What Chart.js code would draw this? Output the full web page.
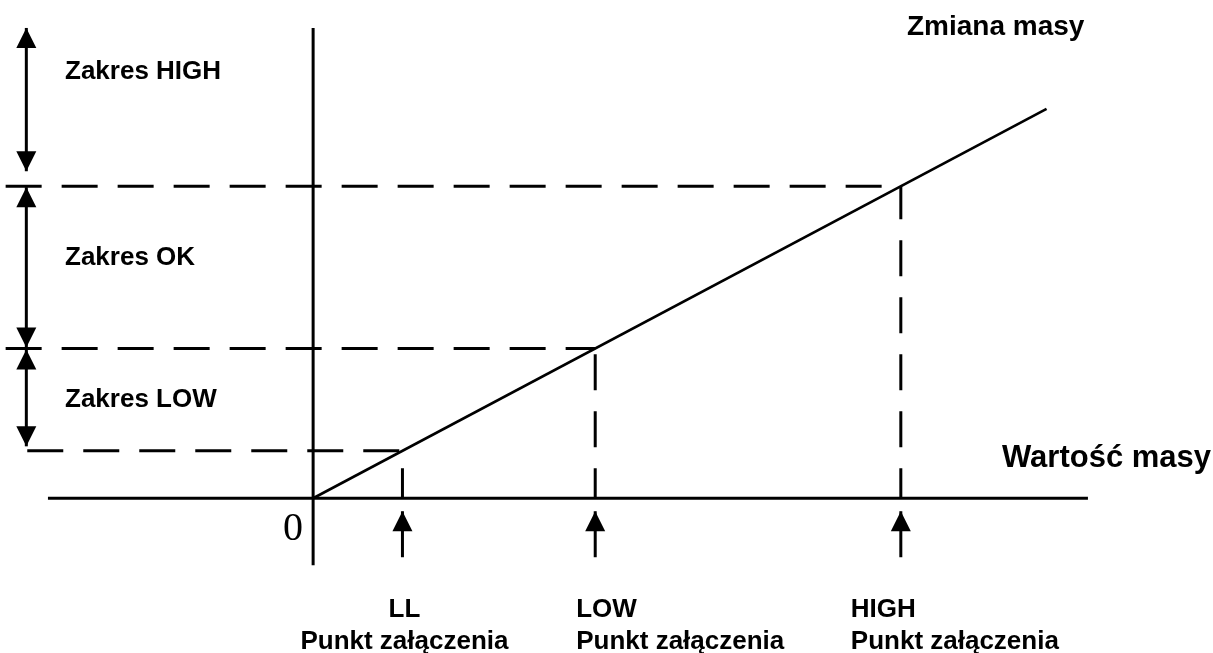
<!DOCTYPE html>
<html lang="pl">
<head>
<meta charset="utf-8">
<script src="https://cdn.jsdelivr.net/npm/chart.js@4.4.1/dist/chart.umd.min.js"></script>
<style>
  html, body { margin: 0; padding: 0; background: #fff; }
  #wrap { width: 1213px; height: 653px; position: relative; }
</style>
</head>
<body>
<div id="wrap"><canvas id="wykres"></canvas></div>
<script>
// punkty załączenia na osi X (wartość masy)
const punkty = ['LL', 'LOW', 'HIGH'];
const punktyX = [0.95, 3, 6.25];
// progi na osi Y (zmiana masy) i początek linii przerywanej po lewej
const progiY = [0.95, 3, 6.25];
const progiStartX = [-3.04, -3.27, -3.27];
// charakterystyka: zmiana masy rośnie liniowo z wartością masy
const liniaX = [0, 7.8];
const liniaY = [0, 7.8];
// zakresy po lewej stronie (od, do)
const zakresy = ['Zakres HIGH', 'Zakres OK', 'Zakres LOW'];
const zakresyOd = [6.55, 3.02, 1.04];
const zakresyDo = [9.42, 6.23, 2.98];
// zasięg osi
const osX = [-2.82, 8.24];
const osY = [-1.34, 9.42];

const czarny = '#000';
const font = '"Liberation Sans", Arial, sans-serif';

// zestawy danych: osie, charakterystyka i linie przerywane
const zestawy = [];
zestawy.push({ data: [{ x: osX[0], y: 0 }, { x: osX[1], y: 0 }], borderWidth: 3 });
zestawy.push({ data: [{ x: 0, y: osY[0] }, { x: 0, y: osY[1] }], borderWidth: 3 });
zestawy.push({ data: liniaX.map((x, i) => ({ x: x, y: liniaY[i] })), borderWidth: 2.6 });
progiY.forEach((y, i) => {
  zestawy.push({ data: [{ x: progiStartX[i], y: y }, { x: punktyX[i], y: y }], borderDash: [36, 20], borderWidth: 3 });
  zestawy.push({ data: [{ x: punktyX[i], y: 0 }, { x: punktyX[i], y: y }], borderDash: [36, 21], borderDashOffset: 6, borderWidth: 3 });
});
zestawy.forEach(d => {
  d.showLine = true;
  d.pointRadius = 0;
  d.borderColor = czarny;
  d.fill = false;
});

// rysuje odcinek ze strzałką na jednym lub obu końcach
function strzalka(ctx, x1, y1, x2, y2, oba) {
  const dl = 20, pol = 10;
  const kat = Math.atan2(y2 - y1, x2 - x1);
  ctx.beginPath();
  ctx.moveTo(x1, y1);
  ctx.lineTo(x2, y2);
  ctx.stroke();
  const grot = (x, y, a) => {
    ctx.beginPath();
    ctx.moveTo(x, y);
    ctx.lineTo(x - dl * Math.cos(a) + pol * Math.sin(a), y - dl * Math.sin(a) - pol * Math.cos(a));
    ctx.lineTo(x - dl * Math.cos(a) - pol * Math.sin(a), y - dl * Math.sin(a) + pol * Math.cos(a));
    ctx.closePath();
    ctx.fill();
  };
  grot(x2, y2, kat);
  if (oba) grot(x1, y1, kat + Math.PI);
}

const opisy = {
  id: 'opisy',
  afterDatasetsDraw(chart) {
    const ctx = chart.ctx;
    const sx = chart.scales.x, sy = chart.scales.y;
    ctx.save();
    ctx.strokeStyle = czarny;
    ctx.fillStyle = czarny;
    ctx.lineWidth = 3;

    // podwójne strzałki zakresów
    const xz = sx.getPixelForValue(-3.05);
    zakresy.forEach((t, i) => {
      strzalka(ctx, xz, sy.getPixelForValue(zakresyDo[i]), xz, sy.getPixelForValue(zakresyOd[i]), true);
    });
    // strzałki punktów załączenia
    punktyX.forEach(x => {
      const px = sx.getPixelForValue(x);
      strzalka(ctx, px, sy.getPixelForValue(0) + 59, px, sy.getPixelForValue(0) + 13, false);
    });

    // napisy zakresów
    ctx.font = 'bold 26px ' + font;
    ctx.textAlign = 'left';
    ctx.textBaseline = 'alphabetic';
    const zakresyBaza = [79, 265, 407];
    zakresy.forEach((t, i) => ctx.fillText(t, 65, zakresyBaza[i]));

    // napisy pod punktami
    const wyrown = [{ a: 'center', dx: 2 }, { a: 'left', dx: -19 }, { a: 'left', dx: -50 }];
    punkty.forEach((p, i) => {
      const px = sx.getPixelForValue(punktyX[i]) + wyrown[i].dx;
      ctx.textAlign = wyrown[i].a;
      ctx.fillText(p, px, 617);
      ctx.fillText('Punkt załączenia', px, 649);
    });

    // tytuły osi
    ctx.textAlign = 'left';
    ctx.font = 'bold 28px ' + font;
    ctx.fillText('Zmiana masy', 907, 35);
    ctx.font = 'bold 31px ' + font;
    ctx.fillText('Wartość masy', 1002, 467);

    // zero w początku układu
    ctx.font = '40px "Liberation Serif", "Times New Roman", serif';
    ctx.textAlign = 'center';
    ctx.fillText('0', sx.getPixelForValue(0) - 20, sy.getPixelForValue(0) + 42);
    ctx.restore();
  }
};

new Chart(document.getElementById('wykres'), {
  type: 'scatter',
  data: { datasets: zestawy },
  options: {
    responsive: true,
    maintainAspectRatio: false,
    animation: false,
    layout: { padding: 0 },
    elements: { line: { tension: 0, borderCapStyle: 'butt' } },
    plugins: { legend: { display: false }, tooltip: { enabled: false } },
    scales: {
      x: { type: 'linear', min: -3.33, max: 9.57, display: false },
      y: { type: 'linear', min: -3.1, max: 9.98, display: false }
    }
  },
  plugins: [opisy]
});
</script>
</body>
</html>
